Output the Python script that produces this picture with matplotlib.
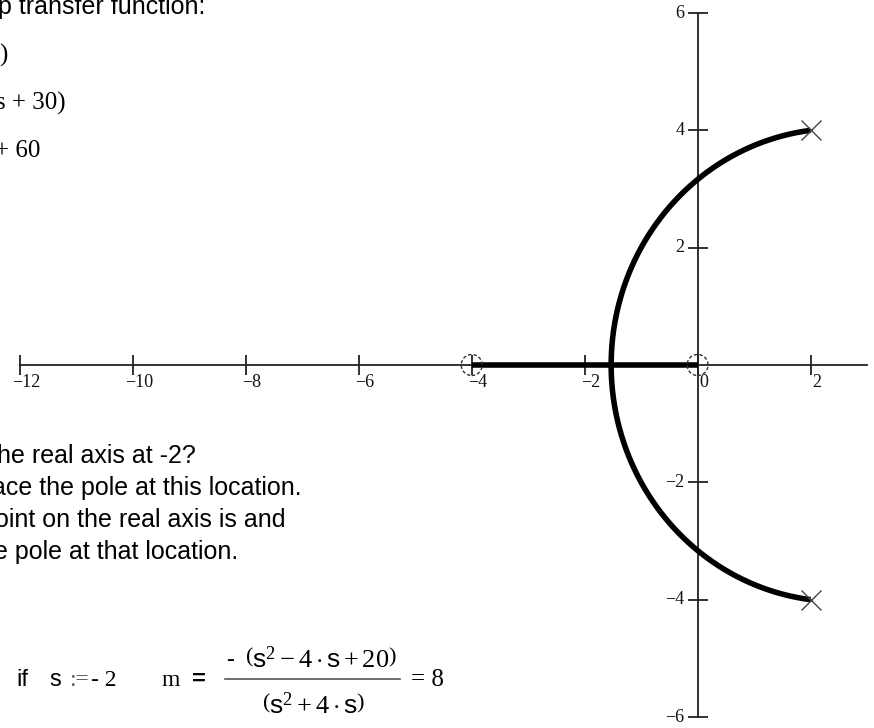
import numpy as np
import matplotlib
matplotlib.use('Agg')
import matplotlib.pyplot as plt
from matplotlib.patches import Ellipse

# ── System data ───────────────────────────────────────────────
num_coeffs = [1, 4, 0]      # s^2 + 4s      -> zeros at 0, -4
den_coeffs = [1, -4, 20]    # s^2 - 4s + 20 -> poles at 2 +/- 4j
s_test     = -2

x_ticks = [-12, -10, -8, -6, -4, -2, 0, 2]
y_ticks = [-6, -4, -2, 2, 4, 6]
x_range = (-12, 3)
y_range = (-6, 6)

# gain sweep for the locus
gains = np.concatenate([np.linspace(0, 12, 6000), np.logspace(np.log10(12), 5, 1500)])

W, H = 874, 728
fig = plt.figure(figsize=(W / 100, H / 100), dpi=100)
plt.rcParams['mathtext.fontset'] = 'custom'
plt.rcParams['mathtext.rm'] = 'Liberation Serif'
plt.rcParams['mathtext.sf'] = 'Liberation Sans'
plt.rcParams['mathtext.it'] = 'Liberation Serif:italic'

SANS = 'Liberation Sans'
SERIF = 'Liberation Serif'


def px(x, y):
    """pixel position (from top-left) -> figure fraction"""
    return x / W, 1 - y / H


def ftext(x, y, s, **kw):
    kw.setdefault('va', 'baseline')
    kw.setdefault('ha', 'left')
    fig.text(*px(x, y), s, **kw)


# ── Root locus axes ───────────────────────────────────────────
ax_l, ax_r, ax_t, ax_b = 20, 867, 13, 717
ax = fig.add_axes([ax_l / W, 1 - ax_b / H, (ax_r - ax_l) / W, (ax_b - ax_t) / H])
ax.set_xlim(*x_range)
ax.set_ylim(*y_range)
ax.patch.set_alpha(0)
for side in ['top', 'right']:
    ax.spines[side].set_visible(False)
ax.spines['left'].set_position('zero')
ax.spines['bottom'].set_position('zero')
for side in ['left', 'bottom']:
    ax.spines[side].set_color('#222222')
    ax.spines[side].set_linewidth(1.3)
ax.set_xticks(x_ticks)
ax.set_yticks(y_ticks)
ax.set_xticklabels([])
ax.set_yticklabels([])
ax.tick_params(direction='inout', length=15, width=1.3, color='#222222')

tick_font = dict(family=SERIF, fontsize=13, color='#111111')
for t in x_ticks:
    ax.annotate(f'{t}'.replace('-', '\u2212'), (t, 0), xytext=(6, -9),
                textcoords='offset pixels', ha='center', va='top', **tick_font)
for t in y_ticks:
    ax.annotate(f'{t}'.replace('-', '\u2212'), (0, t), xytext=(-13, 0),
                textcoords='offset pixels', ha='right', va='center', **tick_font)

# closed-loop roots: den + K*num = 0
upper, lower = [], []
for k in gains:
    r = np.roots(np.polyadd(den_coeffs, k * np.array(num_coeffs, dtype=float)))
    r = np.where(np.abs(r.imag) < 1e-9, r.real + 0j, r)
    r = sorted(r, key=lambda z: (z.imag, z.real))
    lower.append(r[0])
    upper.append(r[1])
upper = np.array(upper)
lower = np.array(lower)
ax.plot(upper.real, upper.imag, color='black', lw=4.0, solid_capstyle='butt', zorder=3)
ax.plot(lower.real, lower.imag, color='black', lw=4.0, solid_capstyle='butt', zorder=3)

poles = np.roots(den_coeffs)
zeros = np.roots(num_coeffs)
ax.plot(poles.real, poles.imag, 'x', ms=15, mew=1.0, color='#444444', zorder=4)
x_ppu = (ax_r - ax_l) / (x_range[1] - x_range[0])
y_ppu = (ax_b - ax_t) / (y_range[1] - y_range[0])
for z in zeros:
    ax.add_patch(Ellipse((z.real, z.imag), 21 / x_ppu, 21 / y_ppu, fill=False,
                         ec='#333333', lw=1.0, ls=(0, (2.5, 1.5)), zorder=4))

# ── Worksheet text ────────────────────────────────────────────
prose = dict(family=SANS, fontsize=18, color='black')
math_font = dict(family=SERIF, fontsize=18, color='black')

ftext(-2, 14, 'p transfer function:', **prose)
ftext(-1, 62, ')', **math_font)
ftext(-4, 110, 's + 30)', **math_font)
ftext(-5, 157, '+ 60', **math_font)

ftext(-3, 463, 'he real axis at -2?', **prose)
ftext(-8, 495, 'ace the pole at this location.', **prose)
ftext(-5, 527, 'oint on the real axis is and', **prose)
ftext(-6, 559, 'e pole at that location.', **prose)

# m = -den(s)/num(s) evaluated at the test point
m_val = -np.polyval(den_coeffs, s_test) / np.polyval(num_coeffs, s_test)

eq_base = 686
eq_font = 17
ftext(16, eq_base, 'if', family=SANS, fontsize=eq_font)
ftext(49, eq_base, 's', family=SANS, fontsize=eq_font)
ftext(69, eq_base, ':=', family=SERIF, fontsize=eq_font, color='#555555')
ftext(91, eq_base, f'- {abs(s_test)}' if s_test < 0 else f'{s_test}',
      family=SERIF, fontsize=eq_font)
ftext(162, eq_base, 'm', family=SERIF, fontsize=eq_font)
ftext(192, eq_base, '=', family=SANS, fontsize=eq_font, weight='bold')

frac_l, frac_r, frac_y = 225, 400, 679
fig.add_artist(plt.Line2D([frac_l / W, frac_r / W], [1 - frac_y / H] * 2,
                          color='#555555', lw=1.2))
ftext(226, 666, '-', family=SERIF, fontsize=eq_font)
ftext(321, 668,
      r'$\left(\mathsf{s}^{2} - 4\cdot\mathsf{s} + 20\right)$', ha='center', fontsize=19)
ftext(313, 714,
      r'$\left(\mathsf{s}^{2} + 4\cdot\mathsf{s}\right)$', ha='center', fontsize=19)
ftext(411, eq_base, f'= {m_val:g}', family=SERIF, fontsize=18)

fig.savefig('out.png', dpi=100)
